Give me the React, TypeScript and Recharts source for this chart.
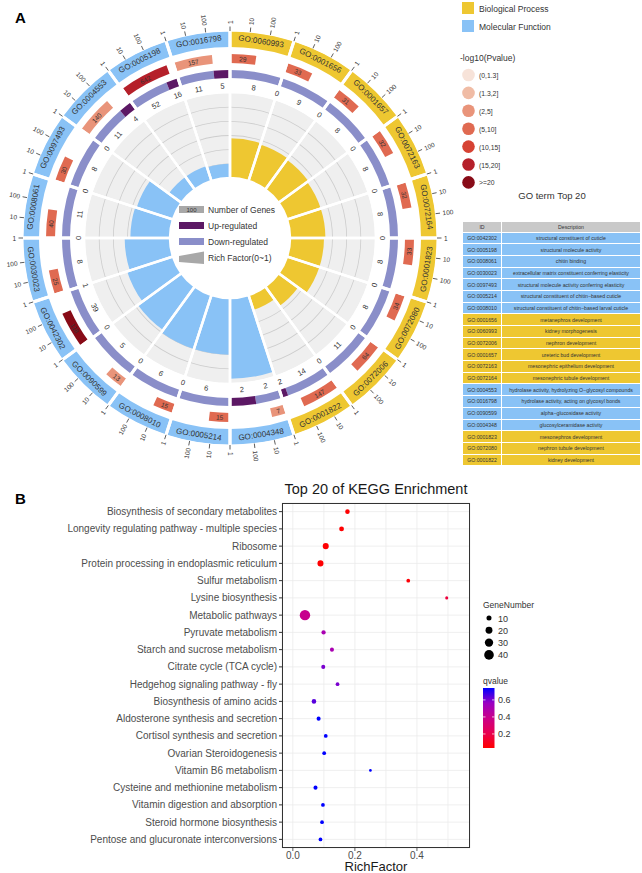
import React from 'react';
import { PieChart, Pie, Cell, ScatterChart, Scatter, XAxis, YAxis, ZAxis, CartesianGrid } from 'recharts';

const FONT = '"Liberation Sans", Arial, Helvetica, sans-serif';

// ---------- Panel A: GO circle, clockwise from 12 o'clock ----------
const goIds = [
  'GO:0060993', 'GO:0001656', 'GO:0001657', 'GO:0072163', 'GO:0072164', 'GO:0001823', 'GO:0072080',
  'GO:0072006', 'GO:0001822', 'GO:0004348', 'GO:0005214', 'GO:0008010', 'GO:0090599', 'GO:0042302',
  'GO:0030023', 'GO:0008061', 'GO:0097493', 'GO:0004553', 'GO:0005198', 'GO:0016798',
];
const goClass = ['BP', 'BP', 'BP', 'BP', 'BP', 'BP', 'BP', 'BP', 'BP', 'MF', 'MF', 'MF', 'MF', 'MF', 'MF', 'MF', 'MF', 'MF', 'MF', 'MF'];
const geneCounts = [29, 33, 31, 32, 32, 33, 34, 64, 147, 7, 15, 15, 13, 118, 25, 40, 30, 140, 642, 157];
const pBins = [
  '(5,10]', '(5,10]', '(5,10]', '(5,10]', '(5,10]', '(5,10]', '(5,10]', '(5,10]', '(5,10]', '(2,5]',
  '(5,10]', '(5,10]', '(2,5]', '>=20', '(5,10]', '(5,10]', '(5,10]', '(2,5]', '(15,20]', '(2,5]',
];
const upCounts = [0, 0, 0, 0, 0, 0, 0, 0, 2, 2, 0, 0, 0, 1, 0, 0, 0, 4, 16, 5];
const downCounts = [8, 9, 8, 8, 8, 8, 8, 11, 14, 2, 6, 6, 5, 39, 8, 11, 8, 11, 52, 11];
const richFactor = [0.28, 0.27, 0.26, 0.25, 0.25, 0.24, 0.24, 0.17, 0.11, 0.57, 0.4, 0.4, 0.38, 0.34, 0.32, 0.28, 0.27, 0.11, 0.11, 0.1];
const countTicks = ['1', '10', '100'];

const pBinLabels = ['(0,1.3]', '(1.3,2]', '(2,5]', '(5,10]', '(10,15]', '(15,20]', '>=20'];
const pBinColors = ['#f7e3d9', '#f0bca5', '#e9947a', '#e06a51', '#d64233', '#b5202a', '#880b17'];

const tableIds = [
  'GO:0042302', 'GO:0005198', 'GO:0008061', 'GO:0030023', 'GO:0097493', 'GO:0005214', 'GO:0008010',
  'GO:0001656', 'GO:0060993', 'GO:0072006', 'GO:0001657', 'GO:0072163', 'GO:0072164', 'GO:0004553',
  'GO:0016798', 'GO:0090599', 'GO:0004348', 'GO:0001823', 'GO:0072080', 'GO:0001822',
];
const tableDesc = [
  'structural constituent of cuticle', 'structural molecule activity', 'chitin binding',
  'extracellular matrix constituent conferring elasticity', 'structural molecule activity conferring elasticity',
  'structural constituent of chitin\u2212based cuticle', 'structural constituent of chitin\u2212based larval cuticle',
  'metanephros development', 'kidney morphogenesis', 'nephron development', 'ureteric bud development',
  'mesonephric epithelium development', 'mesonephric tubule development',
  'hydrolase activity, hydrolyzing O\u2212glycosyl compounds', 'hydrolase activity, acting on glycosyl bonds',
  'alpha\u2212glucosidase activity', 'glucosylceramidase activity', 'mesonephros development',
  'nephron tubule development', 'kidney development',
];

// ---------- Panel B: KEGG ----------
const pathways = [
  'Biosynthesis of secondary metabolites', 'Longevity regulating pathway - multiple species', 'Ribosome',
  'Protein processing in endoplasmic reticulum', 'Sulfur metabolism', 'Lysine biosynthesis', 'Metabolic pathways',
  'Pyruvate metabolism', 'Starch and sucrose metabolism', 'Citrate cycle (TCA cycle)', 'Hedgehog signaling pathway - fly',
  'Biosynthesis of amino acids', 'Aldosterone synthesis and secretion', 'Cortisol synthesis and secretion',
  'Ovarian Steroidogenesis', 'Vitamin B6 metabolism', 'Cysteine and methionine metabolism',
  'Vitamin digestion and absorption', 'Steroid hormone biosynthesis', 'Pentose and glucuronate interconversions',
];
const keggRich = [0.176, 0.157, 0.106, 0.089, 0.372, 0.496, 0.039, 0.099, 0.126, 0.098, 0.144, 0.068, 0.083, 0.106, 0.101, 0.25, 0.073, 0.097, 0.094, 0.089];
const geneNumber = [8, 9, 15, 15, 5, 3, 47, 7, 6, 6, 5, 8, 6, 5, 5, 2, 6, 5, 5, 5];
const qValue = [0.04, 0.04, 0.04, 0.04, 0.05, 0.17, 0.4, 0.51, 0.51, 0.6, 0.6, 0.64, 0.74, 0.74, 0.74, 0.74, 0.74, 0.74, 0.74, 0.74];
const sizeTicks = [10, 20, 30, 40];
const qTicks = [0.2, 0.4, 0.6];
const xMajor = [0, 0.2, 0.4];
const xGrid = [0, 0.1, 0.2, 0.3, 0.4, 0.5];

// ---------- styling ----------
const BP_COL = '#eec731';
const MF_COL = '#89c2f6';
const UP_COL = '#5c1864';
const DOWN_COL = '#8a8ec9';
const CX = 225;
const CY = 233;
const SECTOR = 3.2; // log10 decades spanned by one GO sector
const RICH_MAX = 0.6;
const Q_MIN = 0.035;
const Q_MAX = 0.74;
const qStops = [[255, 0, 0], [232, 0, 80], [202, 0, 137], [154, 0, 195], [0, 0, 255]];

const qColor = (q: number) => {
  const t = Math.max(0, Math.min(1, (q - Q_MIN) / (Q_MAX - Q_MIN))) * (qStops.length - 1);
  const i = Math.min(qStops.length - 2, Math.floor(t));
  const f = t - i;
  const c = qStops[i].map((v, k) => Math.round(v + (qStops[i + 1][k] - v) * f));
  return `rgb(${c[0]},${c[1]},${c[2]})`;
};
const zArea = (n: number) => 2.2 + 1.76 * n;

const RAD = Math.PI / 180;
const polar = (cx: number, cy: number, r: number, a: number) => ({ x: cx + r * Math.cos(-a * RAD), y: cy + r * Math.sin(-a * RAD) });
const norm = (d: number) => ((((d + 180) % 360) + 360) % 360) - 180;
const tangentRot = (a: number) => {
  let r = norm(90 - a);
  if (r > 90) r -= 180;
  else if (r < -90) r += 180;
  return r;
};

const arcText = (p: any, r: number, text: any, size: number) => {
  const { x, y } = polar(p.cx, p.cy, r, p.midAngle);
  return (
    <text x={x} y={y} transform={`rotate(${tangentRot(p.midAngle)} ${x} ${y})`} textAnchor="middle"
      dominantBaseline="central" fontSize={size} fill="#333" fontFamily={FONT}>{text}</text>
  );
};
const field = (p: any, k: string) => (p.payload && p.payload[k] !== undefined ? p.payload[k] : p[k]);
const goLabel = (p: any) => arcText(p, 199, field(p, 'id'), 8);
const countLabel = (p: any) => {
  const n = field(p, 'n');
  return n == null ? null : arcText(p, 179.5, n, 6.5);
};
const regLabel = (p: any) => {
  const n = field(p, 'n');
  return n == null ? null : arcText(p, 152, n, 7.5);
};
const tickLabel = (p: any) => {
  const t = field(p, 'tick');
  if (!t) return null;
  const a = p.midAngle;
  const p1 = polar(p.cx, p.cy, 207, a);
  const p2 = polar(p.cx, p.cy, 211.5, a);
  const p3 = polar(p.cx, p.cy, 214, a);
  let rot = norm(-a);
  let anchor = 'start';
  if (rot > 90 || rot < -90) {
    rot = norm(rot + 180);
    anchor = 'end';
  }
  return (
    <g>
      <line x1={p1.x} y1={p1.y} x2={p2.x} y2={p2.y} stroke="#333" strokeWidth={0.8} />
      <text x={p3.x} y={p3.y} transform={`rotate(${rot} ${p3.x} ${p3.y})`} textAnchor={anchor}
        dominantBaseline="central" fontSize={6.5} fill="#333" fontFamily={FONT}>{t}</text>
    </g>
  );
};

// pie inputs
const bandData = goIds.map((id) => ({ id, value: SECTOR }));
const goData = goIds.map((id, i) => ({ id, value: SECTOR, fill: goClass[i] === 'BP' ? BP_COL : MF_COL }));
const countData = geneCounts.flatMap((n, i) => [
  { value: Math.log10(n), n, fill: pBinColors[pBinLabels.indexOf(pBins[i])] },
  { value: SECTOR - Math.log10(n), fill: 'none' },
]);
const regData = downCounts.flatMap((d, i) => {
  const total = d + upCounts[i];
  return [
    { value: (SECTOR * d) / total, n: d, fill: DOWN_COL },
    { value: (SECTOR * upCounts[i]) / total, n: upCounts[i], fill: UP_COL },
  ];
});
const tickData = goIds.flatMap(() => [
  { value: 0, tick: countTicks[0] }, { value: 1 },
  { value: 0, tick: countTicks[1] }, { value: 1 },
  { value: 0, tick: countTicks[2] }, { value: SECTOR - 2 },
]);
const gridRich = [0.1, 0.2, 0.3, 0.4, 0.5];
// rich factor 0..RICH_MAX spans the grey band 60..145
const richRadius = (v: number) => 60 + (85 * v) / RICH_MAX;

const ring = { cx: CX, cy: CY, startAngle: 90, endAngle: -270, dataKey: 'value', isAnimationActive: false, stroke: 'none', labelLine: false } as const;

const GoCircle = () => (
  <div style={{ position: 'absolute', left: 0, top: 0 }}>
    <PieChart width={470} height={470}>
      <Pie {...ring} data={bandData} innerRadius={60} outerRadius={145}>
        {bandData.map((d) => <Cell key={d.id} fill="#efefef" />)}
      </Pie>
      {gridRich.map((v) => (
        <Pie key={v} {...ring} data={bandData} innerRadius={richRadius(v) - 0.4} outerRadius={richRadius(v) + 0.4}>
          {bandData.map((d) => <Cell key={d.id} fill="#cdcdcd" />)}
        </Pie>
      ))}
      {/* rich factor bars, one sector each */}
      {goIds.map((id, i) => (
        <Pie key={id} {...ring} data={bandData} innerRadius={60} outerRadius={richRadius(richFactor[i])}>
          {bandData.map((d, j) => <Cell key={d.id} fill={j === i ? goData[i].fill : 'none'} />)}
        </Pie>
      ))}
      <Pie {...ring} data={goData} innerRadius={191} outerRadius={207} label={goLabel}>
        {goData.map((d) => <Cell key={d.id} fill={d.fill} />)}
      </Pie>
      <Pie {...ring} data={countData} innerRadius={175} outerRadius={184} label={countLabel}>
        {countData.map((d, i) => <Cell key={i} fill={d.fill} />)}
      </Pie>
      <Pie {...ring} data={regData} innerRadius={160} outerRadius={168} label={regLabel}>
        {regData.map((d, i) => <Cell key={i} fill={d.fill} />)}
      </Pie>
      {/* white sector separators */}
      <Pie {...ring} data={bandData} innerRadius={60} outerRadius={146} stroke="#fff" strokeWidth={2.5}>
        {bandData.map((d) => <Cell key={d.id} fill="none" />)}
      </Pie>
      <Pie {...ring} data={bandData} innerRadius={157} outerRadius={208} stroke="#fff" strokeWidth={3}>
        {bandData.map((d) => <Cell key={d.id} fill="none" />)}
      </Pie>
      <Pie {...ring} data={tickData} innerRadius={207} outerRadius={208} label={tickLabel}>
        {tickData.map((d, i) => <Cell key={i} fill="none" />)}
      </Pie>
    </PieChart>
  </div>
);

const txt = { fontFamily: FONT, fill: '#333' };

const GoLegends = () => (
  <svg width={642} height={480} style={{ position: 'absolute', left: 0, top: 0, pointerEvents: 'none' }}>
    <text x={15} y={23} fontSize={15} fontWeight="bold" fontFamily={FONT} fill="#000">A</text>
    {/* center legend */}
    <rect x={179} y={206} width={25} height={7} fill="#a8a8a8" />
    <text x={191.5} y={209.8} fontSize={6} textAnchor="middle" dominantBaseline="central" {...txt}>100</text>
    <text x={208} y={209.8} fontSize={8.5} dominantBaseline="central" {...txt}>Number of Genes</text>
    <rect x={179} y={222} width={25} height={7} fill={UP_COL} />
    <text x={208} y={225.8} fontSize={8.5} dominantBaseline="central" {...txt}>Up-regulated</text>
    <rect x={179} y={238} width={25} height={7} fill={DOWN_COL} />
    <text x={208} y={241.8} fontSize={8.5} dominantBaseline="central" {...txt}>Down-regulated</text>
    <polygon points="179,256 204,251.5 204,264 179,262" fill="#a8a8a8" />
    <text x={208} y={257.8} fontSize={8.5} dominantBaseline="central" {...txt}>Rich Factor(0~1)</text>
    {/* top-right legend */}
    <rect x={462} y={2} width={12} height={12} fill={BP_COL} />
    <text x={479} y={8.5} fontSize={8.5} dominantBaseline="central" {...txt}>Biological Process</text>
    <rect x={462} y={20} width={12} height={12} fill={MF_COL} />
    <text x={479} y={26.5} fontSize={8.5} dominantBaseline="central" {...txt}>Molecular Function</text>
    <text x={460} y={58} fontSize={8.5} dominantBaseline="central" {...txt}>-log10(Pvalue)</text>
    {pBinLabels.map((l, i) => (
      <g key={l}>
        <circle cx={468.5} cy={75 + i * 17.9} r={6.3} fill={pBinColors[i]} />
        <text x={479} y={75.5 + i * 17.9} fontSize={6.8} dominantBaseline="central" {...txt}>{l}</text>
      </g>
    ))}
    <text x={552} y={195} fontSize={9.5} textAnchor="middle" dominantBaseline="central" {...txt}>GO term Top 20</text>
  </svg>
);

const cell = (bg: string, w: number | string) => ({
  background: bg, width: w === 'auto' ? undefined : w, flex: w === 'auto' ? 1 : undefined, display: 'flex',
  alignItems: 'center', justifyContent: 'center', borderRight: '1px solid #fff', boxSizing: 'border-box' as const,
  whiteSpace: 'nowrap' as const, overflow: 'hidden',
});

const GoTable = () => (
  <div style={{ position: 'absolute', left: 463, top: 222, width: 178, fontSize: 5.2, color: '#333', fontFamily: FONT }}>
    <div style={{ display: 'flex', height: 10.5, borderBottom: '1px solid #fff', boxSizing: 'border-box' }}>
      <div style={cell('#c9c9c9', 39)}>ID</div>
      <div style={cell('#c9c9c9', 'auto')}>Description</div>
    </div>
    {tableIds.map((id, i) => {
      const bg = goClass[goIds.indexOf(id)] === 'BP' ? BP_COL : MF_COL;
      return (
        <div key={id} style={{ display: 'flex', height: 11.7, borderBottom: '1px solid #fff', boxSizing: 'border-box' }}>
          <div style={cell(bg, 39)}>{id}</div>
          <div style={cell(bg, 'auto')}>{tableDesc[i]}</div>
        </div>
      );
    })}
  </div>
);

const keggData = pathways.map((name, i) => ({ name, rich: keggRich[i], genes: geneNumber[i], q: qValue[i] }));

const YTick = (p: any) => (
  <text x={p.x} y={p.y} textAnchor="end" dominantBaseline="central" fontSize={10} fill="#4d4d4d" fontFamily={FONT}>
    {p.payload.value}
  </text>
);
const XTick = (p: any) => {
  const v = Number(p.payload.value);
  if (!xMajor.some((m) => Math.abs(m - v) < 1e-6)) return <g />;
  return (
    <g>
      <line x1={p.x} x2={p.x} y1={p.y} y2={p.y + 3} stroke="#333" strokeWidth={0.8} />
      <text x={p.x} y={p.y + 3.5} textAnchor="middle" dominantBaseline="hanging" fontSize={10} fill="#4d4d4d" fontFamily={FONT}>
        {v.toFixed(1)}
      </text>
    </g>
  );
};

const KeggPlot = () => (
  <>
    <div style={{ position: 'absolute', left: 15, top: 490, fontSize: 15, fontWeight: 'bold', fontFamily: FONT }}>B</div>
    <div style={{ position: 'absolute', left: 226, top: 481, width: 300, textAlign: 'center', fontSize: 14.5, fontFamily: FONT, color: '#1a1a1a' }}>
      Top 20 of KEGG Enrichment
    </div>
    <div style={{ position: 'absolute', left: 0, top: 480 }}>
      <ScatterChart width={642} height={393} margin={{ top: 23, right: 172, bottom: 0, left: 0 }}>
        <CartesianGrid stroke="#ebebeb" strokeWidth={0.8} />
        <XAxis type="number" dataKey="rich" domain={[-0.035, 0.571]} allowDataOverflow ticks={xGrid} interval={0}
          tick={XTick} tickLine={false} tickSize={0} tickMargin={0} height={25} axisLine={false}
          label={{ value: 'RichFactor', position: 'insideBottom', offset: 2, fontSize: 13, fill: '#1a1a1a', fontFamily: FONT }} />
        <YAxis type="category" dataKey="name" reversed width={282} interval={0} tickSize={3} axisLine={false}
          tickLine={{ stroke: '#333' }} tick={YTick} />
        <ZAxis type="number" dataKey="genes" domain={[0, 50]} range={[zArea(0), zArea(50)]} />
        <Scatter data={keggData} isAnimationActive={false} shape="circle">
          {keggData.map((d) => <Cell key={d.name} fill={qColor(d.q)} />)}
        </Scatter>
      </ScatterChart>
    </div>
    {/* panel border */}
    <div style={{ position: 'absolute', left: 282, top: 503, width: 188, height: 345, border: '1px solid #333', boxSizing: 'border-box', pointerEvents: 'none' }} />
    <svg width={160} height={170} style={{ position: 'absolute', left: 475, top: 595 }}>
      <defs>
        <linearGradient id="qgrad" x1="0" y1="1" x2="0" y2="0">
          {qStops.map((c, i) => (
            <stop key={i} offset={`${(i / (qStops.length - 1)) * 100}%`} stopColor={`rgb(${c[0]},${c[1]},${c[2]})`} />
          ))}
        </linearGradient>
      </defs>
      <text x={8} y={10} fontSize={8.5} dominantBaseline="central" {...txt}>GeneNumber</text>
      {sizeTicks.map((n, i) => (
        <g key={n}>
          <circle cx={14} cy={23 + i * 12.3} r={Math.sqrt(zArea(n) / Math.PI)} fill="#000" />
          <text x={23} y={23.5 + i * 12.3} fontSize={9} dominantBaseline="central" {...txt}>{n}</text>
        </g>
      ))}
      <text x={8} y={86} fontSize={8.5} dominantBaseline="central" {...txt}>qvalue</text>
      <rect x={8} y={93} width={11.5} height={60} fill="url(#qgrad)" />
      {qTicks.map((q) => {
        const y = 153 - ((q - Q_MIN) / (Q_MAX - Q_MIN)) * 60;
        return (
          <g key={q}>
            <line x1={8} x2={10.5} y1={y} y2={y} stroke="#fff" strokeWidth={0.7} />
            <line x1={17} x2={19.5} y1={y} y2={y} stroke="#fff" strokeWidth={0.7} />
            <text x={23} y={y + 0.5} fontSize={9} dominantBaseline="central" {...txt}>{q.toFixed(1)}</text>
          </g>
        );
      })}
    </svg>
  </>
);

export default function App() {
  return (
    <div style={{ position: 'absolute', left: 0, top: 0, width: 642, height: 873, background: '#fff', fontFamily: FONT, overflow: 'hidden' }}>
      <GoCircle />
      <GoLegends />
      <GoTable />
      <KeggPlot />
    </div>
  );
}
